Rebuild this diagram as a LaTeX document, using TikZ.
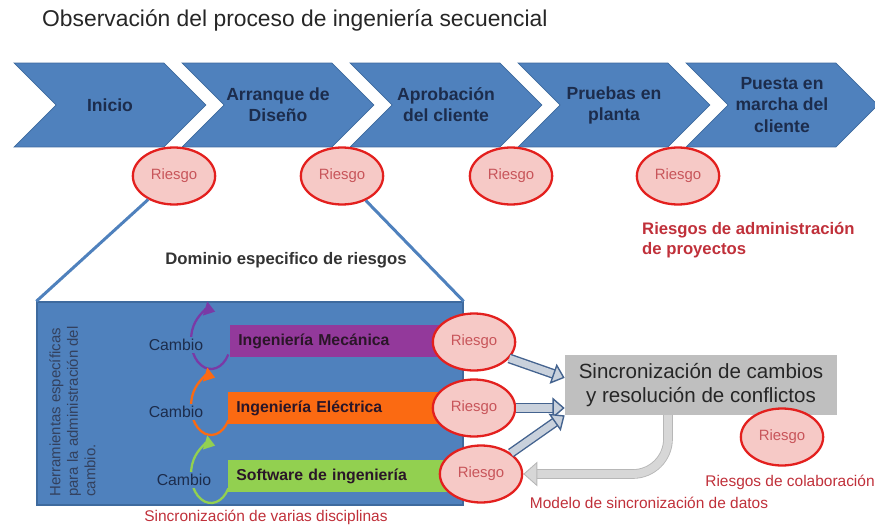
\documentclass[tikz,border=0pt]{standalone}
\usepackage{fontspec}
\setmainfont{Liberation Sans}
\usepackage{tikz}
\usetikzlibrary{arrows.meta,positioning,calc,shapes.geometric,shapes.symbols}

\definecolor{chevblue}{HTML}{4F81BD}
\definecolor{chevedge}{HTML}{3E6A9E}
\definecolor{navytext}{HTML}{1C2C4C}
\definecolor{riskred}{HTML}{E3201E}
\definecolor{riskfill}{HTML}{F6C9C6}
\definecolor{risktext}{HTML}{C8555A}
\definecolor{labelred}{HTML}{C0303A}
\definecolor{mecpurple}{HTML}{93399B}
\definecolor{eleorange}{HTML}{FB6A12}
\definecolor{swgreen}{HTML}{92D050}
\definecolor{arcpurple}{HTML}{7A3AA6}
\definecolor{bartext}{HTML}{2A1628}
\definecolor{syncgray}{HTML}{BFBFBF}
\definecolor{arrowedge}{HTML}{44638F}
\definecolor{arrowfill}{HTML}{C9D1DC}
\definecolor{backgray}{HTML}{D7D7D7}

\begin{document}
\begin{tikzpicture}[x=0.02cm, y=-0.02cm, >=Latex,
  every node/.style={font=\fontsize{9}{11}\selectfont},
  chevron/.style={signal, signal to=east, signal from=west, signal pointer angle=90, draw=chevedge, fill=chevblue, minimum width=3.84cm, minimum height=1.68cm, inner sep=0pt, align=center, text=navytext, font=\bfseries\fontsize{10}{12}\selectfont},
  risk/.style={ellipse, draw=riskred, line width=1.3pt, fill=riskfill, minimum width=1.64cm, minimum height=1.14cm, text=risktext, font=\fontsize{8.5}{10}\selectfont},
  bar/.style={anchor=west, minimum height=0.64cm, text width=4.08cm, inner xsep=0.16cm, align=left, text=bartext, font=\bfseries\fontsize{9}{11}\selectfont},
  cyclearrow/.style={line width=1.3pt, -{Triangle[length=6pt,width=8pt]}},
  changelabel/.style={fill=chevblue, inner sep=1pt, text=navytext},
  syncarrow/.style={draw=arrowedge, line width=0.8pt, double=arrowfill, double distance=4pt, -{Triangle[length=7pt,width=12pt,fill=arrowfill]}},
  backarrow/.style={draw=backgray!85!black, line width=0.5pt, double=backgray, double distance=4.5pt, -{Triangle[length=8pt,width=14pt,fill=backgray]}},
  redlabel/.style={text=labelred, font=\fontsize{8.8}{10}\selectfont}]
\useasboundingbox (0,0) rectangle (875,527);

\node[anchor=west, font=\fontsize{13}{15}\selectfont, text=black!85] (title) at (36,20) {Observación del proceso de ingeniería secuencial};

% fases del proceso
\node[chevron] (inicio) at (110,105) {Inicio};
\node[chevron] (arranque) at (278,105) {Arranque de\\Diseño};
\node[chevron] (aprob) at (446,105) {Aprobación\\del cliente};
\node[chevron] (pruebas) at (614,105) {Pruebas en\\planta};
\node[chevron] (puesta) at (782,105) {Puesta en\\marcha del\\cliente};

\node[risk] (rk1) at (174,176) {Riesgo};
\node[risk] (rk2) at (342,176) {Riesgo};
\node[risk] (rk3) at (511,176) {Riesgo};
\node[risk] (rk4) at (678,176) {Riesgo};
\node[anchor=west, align=left, text=labelred, font=\bfseries\fontsize{9.5}{11.5}\selectfont] (admin) at (636,240) {Riesgos de administración\\de proyectos};

% dominio especifico
\node[draw=chevedge, line width=0.8pt, fill=chevblue, minimum width=8.52cm, minimum height=4.06cm] (dom) at (250,403.5) {};
\draw[chevblue, line width=1.7pt] (rk1) -- (dom.north west);
\draw[chevblue, line width=1.7pt] (rk2) -- (dom.north east);
\node[font=\bfseries\fontsize{9.5}{11}\selectfont, text=black!80] (domlabel) at (286,260) {Dominio especifico de riesgos};
\node[rotate=90, anchor=north west, align=left, inner sep=0pt, text=navytext!90, font=\fontsize{8.5}{10}\selectfont] (tools) at (49,497) {Herramientas específicas\\para la administración del\\cambio.};

\coordinate (c1) at (211,340);
\coordinate (c2) at (211,406);
\coordinate (c3) at (211,474);
\draw[cyclearrow, arcpurple] (c1) ++(30:20 and 29) arc[start angle=30, end angle=282, x radius=20, y radius=29];
\draw[cyclearrow, eleorange] (c2) ++(30:20 and 29) arc[start angle=30, end angle=282, x radius=20, y radius=29];
\draw[cyclearrow, swgreen] (c3) ++(30:20 and 29) arc[start angle=30, end angle=282, x radius=20, y radius=29];
\node[changelabel] (cam1) at (176,345) {Cambio};
\node[changelabel] (cam2) at (176,412) {Cambio};
\node[changelabel] (cam3) at (184,480) {Cambio};

\node[bar, fill=mecpurple] (mec) at (230,341) {Ingeniería Mecánica};
\node[bar, fill=eleorange] (ele) at (228,408) {Ingeniería Eléctrica};
\node[bar, fill=swgreen] (sw) at (228,476) {Software de ingeniería};

\node[risk] (er1) at (474,342) {Riesgo};
\node[risk] (er2) at (474,408) {Riesgo};
\node[risk] (er3) at (481,474) {Riesgo};

% sincronizacion
\node[fill=syncgray, minimum width=5.44cm, minimum height=1.2cm, align=center, text=black!85, font=\fontsize{11.7}{14}\selectfont] (sync) at (701,385) {Sincronización de cambios\\y resolución de conflictos};
\draw[syncarrow] (er1.-25) -- (sync.177);
\draw[syncarrow] (er2) -- (er2 -| sync.west);
\draw[syncarrow] (er3.35) -- (sync.south west);
\coordinate (bk) at (668,415);
\draw[backarrow, rounded corners=20] (bk) |- (er3);

\node[risk] (collab) at (782,437) {Riesgo};
\node[redlabel] (collablabel) at (790,482) {Riesgos de colaboración};
\node[redlabel] (modlabel) at (649,503) {Modelo de sincronización de datos};
\node[redlabel] (disclabel) at (266,517) {Sincronización de varias disciplinas};
\end{tikzpicture}
\end{document}
